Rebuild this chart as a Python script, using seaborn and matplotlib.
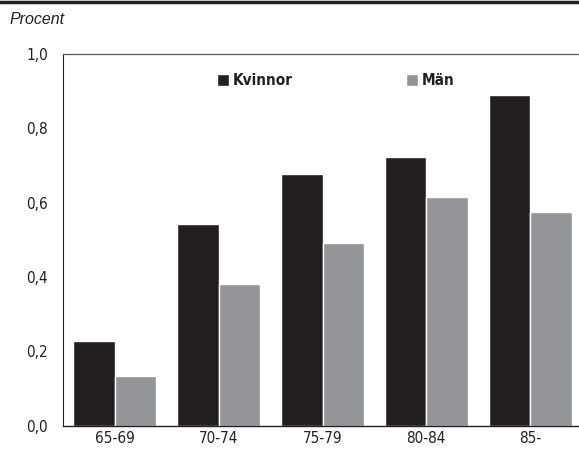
import matplotlib
matplotlib.use("Agg")
import matplotlib.pyplot as plt
import seaborn as sns
import pandas as pd
from matplotlib.ticker import FixedLocator

age_groups = ["65-69", "70-74", "75-79", "80-84", "85-"]
kvinnor = [0.228, 0.542, 0.676, 0.722, 0.889]
man = [0.134, 0.381, 0.490, 0.614, 0.575]
y_ticks = [0.0, 0.2, 0.4, 0.6, 0.8, 1.0]
y_labels = ["0,0", "0,2", "0,4", "0,6", "0,8", "1,0"]

df = pd.DataFrame({
    "age": age_groups * 2,
    "value": kvinnor + man,
    "sex": ["Kvinnor"] * len(age_groups) + ["Män"] * len(age_groups),
})

sns.set_style("white")
plt.rcParams["font.family"] = ["DejaVu Sans"]
plt.rcParams["font.stretch"] = "condensed"

fig = plt.figure(figsize=(5.79, 4.54), dpi=100)
ax = fig.add_axes([63 / 579, 28.5 / 454, 519 / 579, 371.5 / 454])

sns.barplot(data=df, x="age", y="value", hue="sex", order=age_groups,
            palette={"Kvinnor": "#231f20", "Män": "#939598"},
            width=0.8, gap=0, saturation=1, ax=ax, errorbar=None)

ax.set_xlim(-0.5, 4.5)
ax.set_ylim(0, 1.0)
ax.set_xlabel("")
ax.set_ylabel("")

ax.set_yticks(y_ticks)
ax.set_yticklabels(y_labels, fontsize=11, color="#231f20")
ax.tick_params(axis="y", direction="in", length=5, width=0.8, color="#231f20", pad=11)

ax.set_xticks(range(len(age_groups)))
ax.set_xticklabels(age_groups, fontsize=11, color="#231f20")
ax.tick_params(axis="x", which="major", length=0, pad=4)
ax.xaxis.set_minor_locator(FixedLocator([-0.5, 0.5, 1.5, 2.5, 3.5]))
ax.tick_params(axis="x", which="minor", direction="out", length=6, width=0.9, color="#231f20")

for side in ["left", "bottom", "top"]:
    ax.spines[side].set_visible(True)
    ax.spines[side].set_color("#231f20")
ax.spines["left"].set_linewidth(0.8)
ax.spines["top"].set_linewidth(0.9)
ax.spines["top"].set_color("#555555")
ax.spines["bottom"].set_linewidth(1.0)
ax.spines["right"].set_visible(False)

handles, labels = ax.get_legend_handles_labels()
leg = ax.legend(handles, labels, ncol=2, frameon=False, loc="upper left",
                bbox_to_anchor=(140 / 519, 0.985), handlelength=0.8,
                handleheight=0.8, handletextpad=0.25, columnspacing=7.4,
                prop={"weight": "bold", "size": 11, "stretch": "condensed"})
for t in leg.get_texts():
    t.set_color("#231f20")

# top rule and unit label
fig.add_artist(plt.Line2D([0, 1], [1 - 1.5 / 454, 1 - 1.5 / 454],
                          transform=fig.transFigure, color="#231f20", linewidth=2.5))
fig.text(9 / 579, 1 - 20 / 454, "Procent", fontsize=11.5, style="italic",
         color="#231f20", va="center", ha="left",
         family=["Liberation Sans", "DejaVu Sans"], stretch="normal")

fig.savefig("out.png", dpi=100)
